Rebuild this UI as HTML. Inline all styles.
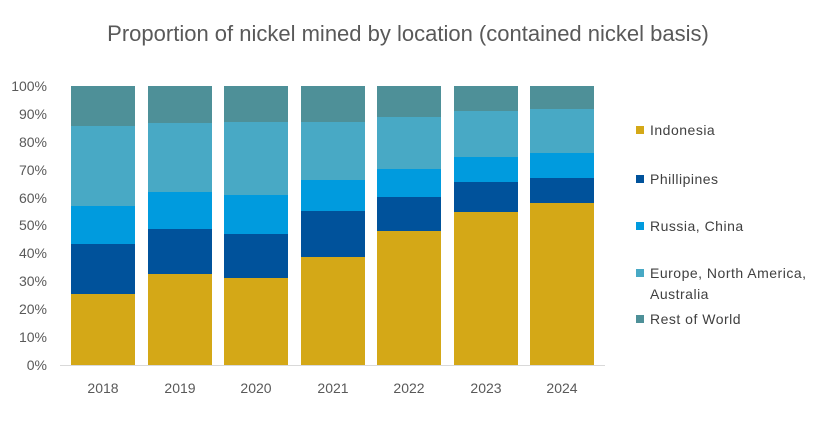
<!DOCTYPE html>
<html><head><style>body{margin:0;background:#fff}</style></head><body>
<svg width="829" height="419" xmlns="http://www.w3.org/2000/svg" font-family="Liberation Sans, sans-serif">
<rect width="829" height="419" fill="#fff"/>
<text x="408" y="41" font-size="22" fill="#595959" text-anchor="middle">Proportion of nickel mined by location (contained nickel basis)</text>
<g font-size="14" fill="#595959" text-anchor="end">
<text x="47" y="370">0%</text><text x="47" y="342">10%</text><text x="47" y="314">20%</text><text x="47" y="286">30%</text><text x="47" y="258">40%</text><text x="47" y="230">50%</text><text x="47" y="203">60%</text><text x="47" y="175">70%</text><text x="47" y="147">80%</text><text x="47" y="119">90%</text><text x="47" y="91">100%</text>
</g>
<line x1="60" y1="365.5" x2="605" y2="365.5" stroke="#d9d9d9"/>
<g fill="#D4A817">
<rect x="71" y="294" width="64" height="71"/><rect x="148" y="274" width="64" height="91"/><rect x="224" y="278" width="64" height="87"/><rect x="301" y="257" width="64" height="108"/><rect x="377" y="231" width="64" height="134"/><rect x="454" y="212" width="64" height="153"/><rect x="530" y="203" width="64" height="162"/>
</g>
<g fill="#00529B">
<rect x="71" y="244" width="64" height="50"/><rect x="148" y="229" width="64" height="45"/><rect x="224" y="234" width="64" height="44"/><rect x="301" y="211" width="64" height="46"/><rect x="377" y="197" width="64" height="34"/><rect x="454" y="182" width="64" height="30"/><rect x="530" y="178" width="64" height="25"/>
</g>
<g fill="#009BDE">
<rect x="71" y="206" width="64" height="38"/><rect x="148" y="192" width="64" height="37"/><rect x="224" y="195" width="64" height="39"/><rect x="301" y="180" width="64" height="31"/><rect x="377" y="169" width="64" height="28"/><rect x="454" y="157" width="64" height="25"/><rect x="530" y="153" width="64" height="25"/>
</g>
<g fill="#48A9C5">
<rect x="71" y="126" width="64" height="80"/><rect x="148" y="123" width="64" height="69"/><rect x="224" y="122" width="64" height="73"/><rect x="301" y="122" width="64" height="58"/><rect x="377" y="117" width="64" height="52"/><rect x="454" y="111" width="64" height="46"/><rect x="530" y="109" width="64" height="44"/>
</g>
<g fill="#4E9098">
<rect x="71" y="86" width="64" height="40"/><rect x="148" y="86" width="64" height="37"/><rect x="224" y="86" width="64" height="36"/><rect x="301" y="86" width="64" height="36"/><rect x="377" y="86" width="64" height="31"/><rect x="454" y="86" width="64" height="25"/><rect x="530" y="86" width="64" height="23"/>
</g>
<g font-size="14" fill="#595959" text-anchor="middle">
<text x="103" y="393">2018</text><text x="180" y="393">2019</text><text x="256" y="393">2020</text><text x="333" y="393">2021</text><text x="409" y="393">2022</text><text x="486" y="393">2023</text><text x="562" y="393">2024</text>
</g>
<g font-size="14" fill="#404040" letter-spacing="0.5">
<rect x="636" y="126" width="8" height="8" fill="#D4A817"/><text x="650" y="135">Indonesia</text>
<rect x="636" y="175" width="8" height="8" fill="#00529B"/><text x="650" y="184">Phillipines</text>
<rect x="636" y="222" width="8" height="8" fill="#009BDE"/><text x="650" y="231">Russia, China</text>
<rect x="636" y="269" width="8" height="8" fill="#48A9C5"/><text x="650" y="278">Europe, North America,</text><text x="650" y="299">Australia</text>
<rect x="636" y="315" width="8" height="8" fill="#4E9098"/><text x="650" y="324">Rest of World</text>
</g>
</svg>
</body></html>
